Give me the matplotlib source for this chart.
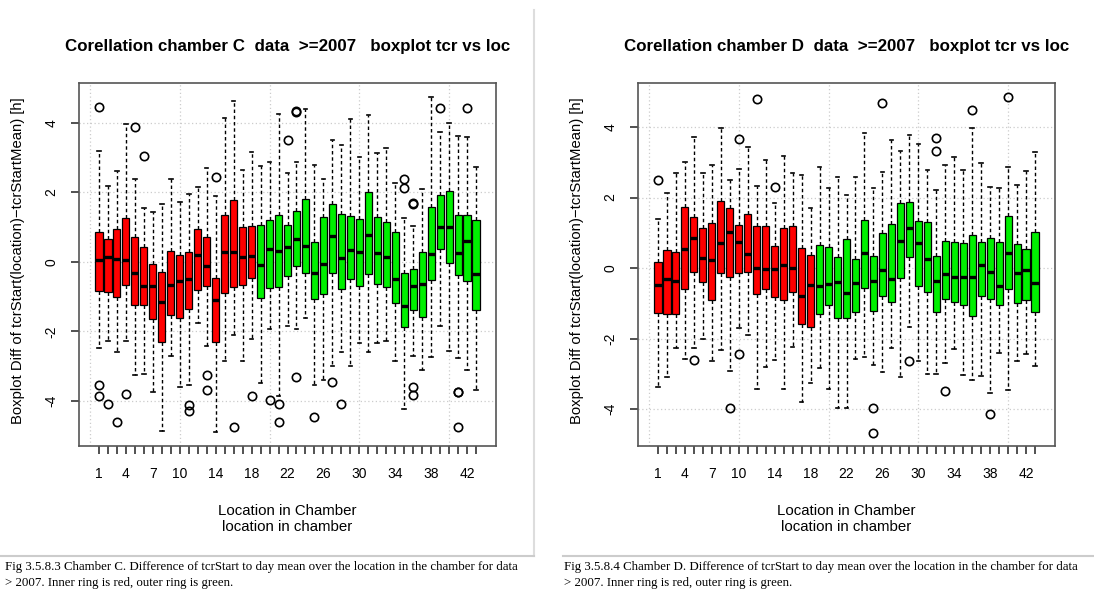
import matplotlib
matplotlib.use("Agg")
import matplotlib.pyplot as plt
from matplotlib.lines import Line2D

# chamber C, per location 1..43
c_whislo = [-2.46, -2.26, -2.6, -2.26, -3.26, -3.22, -3.75, -4.86, -2.70, -3.59,
            -3.54, -1.76, -2.41, -4.88, -2.84, -2.1, -2.86, -2.21, -3.48, -1.93,
            -3.84, -1.83, -1.94, -1.61, -3.53, -3.39, -3.0, -2.6, -3.0, -2.32,
            -2.6, -2.33, -2.28, -2.85, -4.23, -2.7, -3.12, -2.72, -1.84, -2.56,
            -2.76, -3.12, -3.68]
c_q1 = [-0.84, -0.87, -1.02, -0.66, -1.23, -1.23, -1.65, -2.3, -1.52, -1.62,
        -1.34, -0.82, -0.70, -2.3, -0.9, -0.73, -0.65, -0.47, -1.05, -0.75,
        -0.73, -0.40, -0.13, -0.31, -1.07, -0.92, -0.31, -0.78, -0.5, -0.7,
        -0.35, -0.64, -0.71, -1.17, -1.88, -1.38, -1.57, -0.52, 0.36, -0.04,
        -0.37, -0.54, -1.38]
c_med = [0.05, 0.15, 0.08, 0.06, -0.31, -0.68, -0.68, -1.16, -0.66, -0.54,
         -0.5, 0.2, -0.12, -1.1, 0.28, 0.28, 0.14, 0.18, -0.09, 0.36,
         0.31, 0.44, 0.66, 0.46, -0.31, -0.06, 0.73, 0.1, 0.34, 0.27,
         0.76, 0.25, 0.15, -0.5, -1.28, -0.68, -0.63, 0.23, 1.01, 1.01,
         0.25, 0.61, -0.34]
c_q3 = [0.87, 0.66, 0.94, 1.27, 0.71, 0.44, -0.05, -0.28, 0.30, 0.19,
        0.27, 0.95, 0.72, -0.45, 1.36, 1.78, 1.0, 1.02, 1.05, 1.2,
        1.35, 1.05, 1.47, 1.8, 0.57, 1.3, 1.66, 1.37, 1.32, 1.23,
        2.02, 1.3, 1.14, 0.87, -0.33, -0.2, 0.27, 1.59, 1.93, 2.05,
        1.35, 1.35, 1.19]
c_whishi = [3.2, 2.19, 2.6, 3.95, 2.38, 1.56, 1.43, 1.67, 2.38, 1.72,
            1.95, 2.14, 2.71, 1.9, 4.14, 4.61, 2.64, 3.17, 2.76, 2.88,
            4.24, 2.55, 2.88, 4.39, 2.77, 2.38, 3.5, 3.36, 4.1, 3.02,
            4.22, 3.14, 3.28, 2.28, 1.27, 1.03, 2.09, 4.73, 3.74, 3.98,
            3.62, 3.58, 2.72]
c_fliers = {1: [4.45, -3.53, -3.84], 2: [-4.07], 3: [-4.59], 4: [-3.79], 5: [3.87],
            6: [3.05], 11: [-4.1, -4.27], 13: [-3.25, -3.68], 14: [2.43],
            16: [-4.74], 18: [-3.84], 20: [-3.98], 21: [-4.08, -4.6], 22: [3.49],
            23: [4.34, 4.3, -3.3], 25: [-4.46], 27: [-3.45], 28: [-4.08],
            35: [2.38, 2.13], 36: [1.67, 1.7, -3.6, -3.82], 39: [4.43],
            41: [-3.75, -3.73, -4.73], 42: [4.42]}

# chamber D
d_whislo = [-3.39, -3.1, -2.28, -2.57, -2.27, -2.0, -2.63, -2.32, -2.92, -1.69,
            -1.91, -3.42, -2.82, -2.6, -3.42, -2.25, -3.8, -3.25, -2.83, -3.44,
            -3.98, -3.98, -2.58, -2.52, -2.76, -2.96, -2.27, -3.09, -1.67, -2.65,
            -3.0, -3.0, -2.7, -2.31, -3.03, -3.19, -3.06, -3.56, -2.4, -3.46,
            -2.65, -2.43, -2.77]
d_q1 = [-1.27, -1.3, -1.3, -0.6, -0.11, -0.41, -0.9, -0.15, -0.25, -0.13,
        -0.11, -0.74, -0.6, -0.83, -0.92, -0.69, -1.58, -1.67, -1.3, -1.06,
        -1.43, -1.41, -1.25, -0.57, -1.23, -0.78, -0.95, -0.28, 0.3, -0.5,
        -0.68, -1.26, -0.87, -0.96, -1.04, -1.36, -0.78, -0.87, -1.06, -0.59,
        -0.98, -0.92, -1.26]
d_med = [-0.48, -0.3, -0.38, 0.54, 0.85, 0.29, 0.22, 0.71, 1.02, 0.73,
         0.41, 0.01, -0.02, -0.02, 0.1, 0.0, -0.8, -0.48, -0.5, -0.45,
         -0.4, -0.7, -0.42, 0.44, -0.36, -0.05, -0.31, 0.77, 1.14, 0.72,
         0.25, -0.36, -0.17, -0.26, -0.26, -0.26, 0.08, -0.1, -0.5, 0.42,
         -0.15, -0.05, -0.42]
d_q3 = [0.17, 0.5, 0.45, 1.72, 1.46, 1.13, 1.27, 1.9, 1.69, 1.22,
        1.52, 1.2, 1.2, 0.62, 1.13, 1.2, 0.57, 0.36, 0.65, 0.61,
        0.3, 0.83, 0.27, 1.35, 0.35, 0.98, 1.26, 1.85, 1.87, 1.33,
        1.3, 0.35, 0.77, 0.74, 0.70, 0.94, 0.75, 0.86, 0.75, 1.47,
        0.67, 0.53, 1.03]
d_whishi = [1.39, 2.13, 2.69, 3.02, 3.72, 2.69, 2.92, 3.98, 2.5, 2.81,
            3.43, 2.34, 3.06, 1.85, 3.18, 2.69, 2.63, 1.69, 2.86, 2.28,
            2.58, 2.06, 2.58, 3.83, 2.27, 2.73, 3.64, 3.32, 3.78, 3.51,
            2.78, 2.2, 2.92, 3.14, 2.78, 3.97, 2.97, 2.29, 2.27, 2.87,
            2.36, 2.75, 3.28]
d_fliers = {1: [2.51], 5: [-2.62], 9: [-3.96], 10: [3.65, -2.44], 12: [4.8],
            14: [2.29], 25: [-3.98, -4.67], 26: [4.67], 29: [-2.64],
            32: [3.68, 3.31], 33: [-3.48], 36: [4.48], 38: [-4.15], 40: [4.84]}

locations = list(range(1, 44))
n_inner = 18  # locations 1..18 inner ring (red), rest outer ring (green)
xtick_labels = [1, 4, 7, 10, 14, 18, 22, 26, 30, 34, 38, 42]

W, H = 1094, 593
fig = plt.figure(figsize=(W / 100, H / 100), dpi=100)
plt.rcParams['font.family'] = ['Liberation Sans', 'DejaVu Sans']


def fx(px):
    return px / W


def fy(py):
    return 1 - py / H


def panel(left, whislo, q1, med, q3, whishi, fliers, ylim, chamber, caption):
    ax = fig.add_axes([fx(left), fy(446), fx(417), 363 / H])
    stats = []
    for i, loc in enumerate(locations):
        stats.append(dict(whislo=whislo[i], q1=q1[i], med=med[i], q3=q3[i],
                          whishi=whishi[i], fliers=fliers.get(loc, [])))
    res = ax.bxp(stats, positions=locations, widths=0.8, capwidths=0.4,
                 patch_artist=True,
                 boxprops=dict(edgecolor='black', linewidth=0.9),
                 medianprops=dict(color='black', linewidth=2.4),
                 whiskerprops=dict(color='black', linewidth=1.0, linestyle=(0, (2.5, 2))),
                 capprops=dict(color='black', linewidth=1.2),
                 flierprops=dict(marker='o', markersize=6, markerfacecolor='none',
                                 markeredgecolor='black', markeredgewidth=1.2))
    for i, b in enumerate(res['boxes']):
        b.set_facecolor('#ff0000' if i < n_inner else '#00f000')
    ax.set_xlim(-1.22, 45.22)
    ax.set_ylim(*ylim)
    ax.set_xticks(locations)
    ax.set_xticklabels([str(k) if k in xtick_labels else '' for k in locations], fontsize=10)
    ax.set_yticks([-4, -2, 0, 2, 4])
    ax.set_yticklabels(['-4', '-2', '0', '2', '4'], rotation=90, va='center', fontsize=10)
    ax.tick_params(axis='both', direction='out', length=6, width=1.2, color='#333333')
    ax.tick_params(axis='x', pad=9)
    ax.tick_params(axis='y', pad=9)
    for x in [0, 10, 20, 30, 40]:
        ax.axvline(x, color='#cccccc', linestyle=(0, (1, 2)), linewidth=0.9, zorder=0)
    for y in [-4, -2, 0, 2, 4]:
        ax.axhline(y, color='#cccccc', linestyle=(0, (1, 2)), linewidth=0.9, zorder=0)
    for s in ax.spines.values():
        s.set_color('#555555')
        s.set_linewidth(1.2)
    cx = left + 417 / 2
    fig.text(fx(cx), fy(47), 'Corellation chamber %s  data  >=2007   boxplot tcr vs loc' % chamber,
             ha='center', va='center', fontsize=12.2, fontweight='bold')
    fig.text(fx(left - 61), fy(261), 'Boxplot Diff of tcrStart(location)\u2212tcrStartMean) [h]',
             rotation=90, ha='center', va='center', fontsize=10.7)
    fig.text(fx(cx), fy(511), 'Location in Chamber', ha='center', va='center', fontsize=10.8)
    fig.text(fx(cx), fy(527), 'location in chamber', ha='center', va='center', fontsize=10.8)
    fig.text(fx(left - 74), fy(567), caption[0], ha='left', va='center', fontsize=9.3,
             family='Liberation Serif')
    fig.text(fx(left - 74), fy(583), caption[1], ha='left', va='center', fontsize=9.3,
             family='Liberation Serif')
    return ax


panel(79, c_whislo, c_q1, c_med, c_q3, c_whishi, c_fliers, (-5.29, 5.14), 'C',
      ['Fig 3.5.8.3 Chamber C. Difference of tcrStart to day mean over the location in the chamber for data',
       '> 2007. Inner ring is red, outer ring is green.'])
panel(638, d_whislo, d_q1, d_med, d_q3, d_whishi, d_fliers, (-5.05, 5.25), 'D',
      ['Fig 3.5.8.4 Chamber D. Difference of tcrStart to day mean over the location in the chamber for data',
       '> 2007. Inner ring is red, outer ring is green.'])

# page borders of the two pasted figures
fig.add_artist(Line2D([fx(534), fx(534)], [fy(10), fy(556)], color='#dddddd', linewidth=1.5))
fig.add_artist(Line2D([0, fx(534)], [fy(556), fy(556)], color='#cccccc', linewidth=1.5))
fig.add_artist(Line2D([fx(563), 1], [fy(556), fy(556)], color='#cccccc', linewidth=1.5))

fig.savefig('out.png', dpi=100, facecolor='white')
